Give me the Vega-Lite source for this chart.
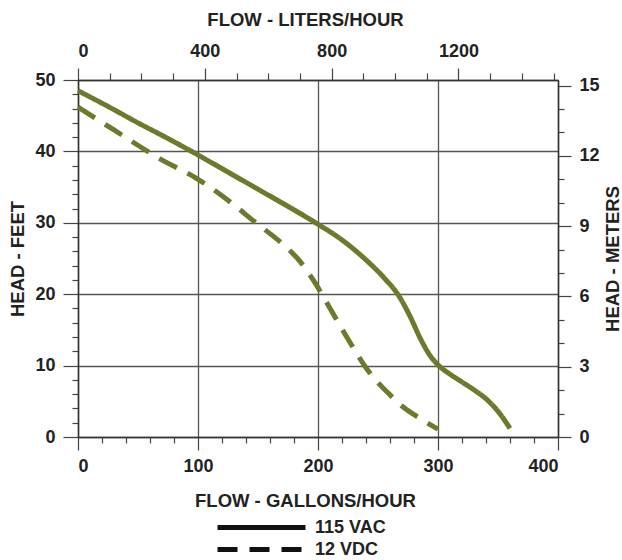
{
  "$schema": "https://vega.github.io/schema/vega-lite/v6.json",
  "width": 480,
  "height": 357,
  "autosize": {"type": "none"},
  "padding": {"left": 78, "top": 80, "right": 64, "bottom": 123},
  "background": "white",
  "datasets": {
    "curves": [
      {"gph": 0, "ft": 48.5, "series": "115 VAC"},
      {"gph": 25, "ft": 46.3, "series": "115 VAC"},
      {"gph": 50, "ft": 44.0, "series": "115 VAC"},
      {"gph": 75, "ft": 41.8, "series": "115 VAC"},
      {"gph": 100, "ft": 39.5, "series": "115 VAC"},
      {"gph": 125, "ft": 37.1, "series": "115 VAC"},
      {"gph": 150, "ft": 34.7, "series": "115 VAC"},
      {"gph": 175, "ft": 32.3, "series": "115 VAC"},
      {"gph": 200, "ft": 29.8, "series": "115 VAC"},
      {"gph": 220, "ft": 27.6, "series": "115 VAC"},
      {"gph": 240, "ft": 24.8, "series": "115 VAC"},
      {"gph": 255, "ft": 22.3, "series": "115 VAC"},
      {"gph": 268, "ft": 19.6, "series": "115 VAC"},
      {"gph": 277, "ft": 16.8, "series": "115 VAC"},
      {"gph": 285, "ft": 13.9, "series": "115 VAC"},
      {"gph": 293, "ft": 11.5, "series": "115 VAC"},
      {"gph": 300, "ft": 10.1, "series": "115 VAC"},
      {"gph": 310, "ft": 8.8, "series": "115 VAC"},
      {"gph": 320, "ft": 7.7, "series": "115 VAC"},
      {"gph": 330, "ft": 6.6, "series": "115 VAC"},
      {"gph": 341, "ft": 5.2, "series": "115 VAC"},
      {"gph": 350, "ft": 3.6, "series": "115 VAC"},
      {"gph": 360, "ft": 1.2, "series": "115 VAC"},
      {"gph": 0, "ft": 46.2, "series": "12 VDC"},
      {"gph": 30, "ft": 43.0, "series": "12 VDC"},
      {"gph": 68, "ft": 39.0, "series": "12 VDC"},
      {"gph": 99, "ft": 36.2, "series": "12 VDC"},
      {"gph": 120, "ft": 33.8, "series": "12 VDC"},
      {"gph": 149, "ft": 29.9, "series": "12 VDC"},
      {"gph": 170, "ft": 27.1, "series": "12 VDC"},
      {"gph": 185, "ft": 24.6, "series": "12 VDC"},
      {"gph": 196, "ft": 22.0, "series": "12 VDC"},
      {"gph": 206, "ft": 19.2, "series": "12 VDC"},
      {"gph": 217, "ft": 16.0, "series": "12 VDC"},
      {"gph": 229, "ft": 12.6, "series": "12 VDC"},
      {"gph": 240, "ft": 9.7, "series": "12 VDC"},
      {"gph": 249, "ft": 7.8, "series": "12 VDC"},
      {"gph": 260, "ft": 5.9, "series": "12 VDC"},
      {"gph": 271, "ft": 4.2, "series": "12 VDC"},
      {"gph": 285, "ft": 2.6, "series": "12 VDC"},
      {"gph": 300, "ft": 1.1, "series": "12 VDC"}
    ],
    "extent": [
      {"lph": 0, "m": 0},
      {"lph": 1514, "m": 15.24}
    ]
  },
  "config": {
    "view": {"stroke": null},
    "axis": {
      "labelFont": "Liberation Sans",
      "labelFontWeight": "bold",
      "labelFontSize": 18,
      "labelColor": "#222222",
      "titleFont": "Liberation Sans",
      "titleFontWeight": "bold",
      "titleFontSize": 18.5,
      "titleColor": "#222222",
      "domainColor": "#333333",
      "domainWidth": 1.5,
      "tickColor": "#444444",
      "tickWidth": 1.2,
      "gridColor": "#555555",
      "gridWidth": 1.3
    }
  },
  "layer": [
    {
      "data": {"name": "curves"},
      "mark": {"type": "line", "interpolate": "monotone", "strokeWidth": 5, "color": "#6b7a2c", "strokeCap": "butt"},
      "encoding": {
        "x": {
          "field": "gph", "type": "quantitative",
          "scale": {"domain": [0, 400], "nice": false},
          "axis": {
            "orient": "bottom",
            "title": "FLOW - GALLONS/HOUR",
            "titleX": 227,
            "values": [0,20,40,60,80,100,120,140,160,180,200,220,240,260,280,300,320,340,360,380,400],
            "labelExpr": "datum.value % 100 === 0 ? datum.label : ''",
            "tickSize": {"condition": {"test": "datum.value % 100 === 0", "value": 13}, "value": 6},
            "gridOpacity": {"condition": {"test": "datum.value % 100 === 0", "value": 1}, "value": 0},
            "labelPadding": 7,
            "titlePadding": 16
          }
        },
        "y": {
          "field": "ft", "type": "quantitative",
          "scale": {"domain": [0, 50], "nice": false},
          "axis": {
            "orient": "left",
            "title": "HEAD - FEET",
            "values": [0,2,4,6,8,10,12,14,16,18,20,22,24,26,28,30,32,34,36,38,40,42,44,46,48,50],
            "labelExpr": "datum.value % 10 === 0 ? datum.label : ''",
            "tickSize": {"condition": {"test": "datum.value % 10 === 0", "value": 15}, "value": 6},
            "gridOpacity": {"condition": {"test": "datum.value % 10 === 0", "value": 1}, "value": 0},
            "labelPadding": 8,
            "titlePadding": 7
          }
        },
        "strokeDash": {
          "field": "series", "type": "nominal",
          "scale": {"domain": ["115 VAC", "12 VDC"], "range": [[1, 0], [20, 12]]},
          "legend": {
            "title": null,
            "orient": "none",
            "legendX": 173,
            "legendY": 437,
            "direction": "vertical",
            "symbolType": "M-5.5,0H5.5",
            "symbolSize": 256,
            "symbolStrokeWidth": 5,
            "symbolStrokeColor": "#111111",
            "labelFont": "Liberation Sans",
            "labelFontWeight": "bold",
            "labelFontSize": 18,
            "labelColor": "#222222",
            "labelOffset": 43,
            "rowPadding": 1
          }
        }
      }
    },
    {
      "data": {"name": "extent"},
      "mark": {"type": "point", "opacity": 0},
      "encoding": {
        "x": {
          "field": "lph", "type": "quantitative",
          "scale": {"domain": [0, 1514], "nice": false},
          "axis": {
            "orient": "top",
            "title": "FLOW - LITERS/HOUR",
            "titleX": 227,
            "values": [0,100,200,300,400,500,600,700,800,900,1000,1100,1200,1300,1400,1500],
            "labelExpr": "datum.value % 400 === 0 ? datum.value : ''",
            "tickSize": {"condition": {"test": "datum.value % 400 === 0", "value": 12}, "value": 7},
            "grid": false,
            "labelPadding": 8,
            "titlePadding": 13
          }
        },
        "y": {
          "field": "m", "type": "quantitative",
          "scale": {"domain": [0, 15.24], "nice": false},
          "axis": {
            "orient": "right",
            "title": "HEAD - METERS",
            "titleAngle": 270,
            "values": [0,1,2,3,4,5,6,7,8,9,10,11,12,13,14,15],
            "labelExpr": "datum.value % 3 === 0 ? datum.label : ''",
            "tickSize": {"condition": {"test": "datum.value % 3 === 0", "value": 13}, "value": 6},
            "grid": false,
            "labelPadding": 8,
            "titlePadding": 23
          }
        }
      }
    }
  ],
  "resolve": {
    "scale": {"x": "independent", "y": "independent"},
    "axis": {"x": "independent", "y": "independent"}
  }
}
